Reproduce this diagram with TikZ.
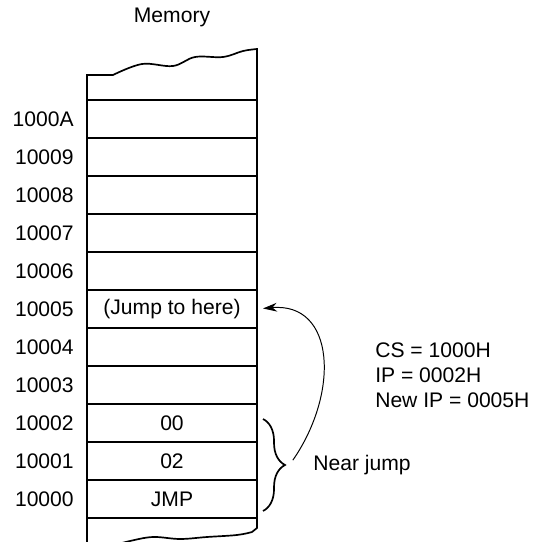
\documentclass[tikz,border=0pt]{standalone}
\usepackage{fontspec}
\setmainfont{Liberation Sans}
\usetikzlibrary{arrows.meta, positioning, decorations.pathreplacing}

\tikzset{
    cell/.style={draw, line width=1.2pt, minimum width=4.25cm, minimum height=0.95cm, inner sep=0pt, outer sep=0pt},
    addr/.style={inner sep=0pt},
    wall/.style={line width=1.2pt},
}

\begin{document}
\begin{tikzpicture}[x=0.025cm, y=0.025cm, font=\fontsize{15}{17.7}\selectfont]
    \useasboundingbox (0,0) rectangle (533,542);

    % Memory column
    \node (title) at (172,525) {Memory};
    \foreach \i/\addr/\val in {0/10000/JMP, 1/10001/02, 2/10002/00, 3/10003/{}, 4/10004/{},
        5/10005/{(Jump to here)}, 6/10006/{}, 7/10007/{}, 8/10008/{}, 9/10009/{}, 10/1000A/{}} {
        \node[cell] (c\i) at (172, {43+38*\i}) {\val};
        \node[addr, left=0.325cm of c\i] (a\i) {\addr};
    }

    % Torn edges
    \draw[wall] (c10.north west) -- (87,467) -- plot[smooth, tension=0.6] coordinates
        {(113,467) (142,478) (173,476) (195,485) (223,485) (243,491) (257,493)} -- (c10.north east);
    \draw[wall] (c0.south west) -- (87,-3);
    \draw[wall] (c0.south east) -- (257,14) -- plot[smooth, tension=0.6] coordinates
        {(252,10) (237,7) (207,5) (180,3) (153,5) (130,1) (115,-3)};

    % Near jump
    \coordinate (bt) at ([xshift=0.15cm, yshift=-0.375cm]c2.north east);
    \coordinate (bb) at ([xshift=0.15cm, yshift=0.175cm]c0.south east);
    \coordinate (tip) at ([xshift=0.775cm, yshift=-0.1cm]c1.east);
    \draw[wall, decorate, decoration={brace, amplitude=0.55cm}] (bt) -- (bb);
    \node[addr, right=0.625cm of tip] (near) {Near jump};
    \draw[-{Stealth[length=0.35cm, width=0.22cm]}, line width=0.7pt, shorten >=0.15cm]
        ([shift={(0.12cm,0.12cm)}]tip) .. controls (340,150) and (335,240) .. (c5.east);

    % Registers
    \node[addr, anchor=west, align=left] (regs) at (375,167) {CS = 1000H\\IP = 0002H\\New IP = 0005H};
\end{tikzpicture}
\end{document}
